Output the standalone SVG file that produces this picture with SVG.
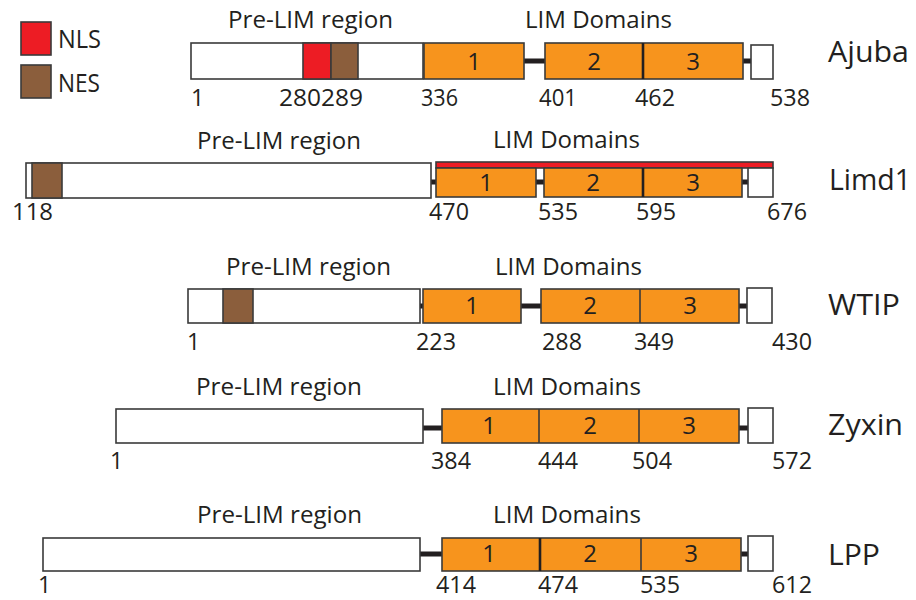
<svg xmlns="http://www.w3.org/2000/svg" width="916" height="600" viewBox="0 0 916 600">
<style>
text{font-family:"Open Sans","Liberation Sans",sans-serif;fill:#231F20}
.box{fill:#fff;stroke:#3a3a3a;stroke-width:1.6}
.lim{fill:#F7941D;stroke:#3a3a3a;stroke-width:1.6}
.nls{fill:#ED1C24;stroke:#3a3a3a;stroke-width:1.6}
.nes{fill:#8B5E3C;stroke:#3a3a3a;stroke-width:1.6}
.lnk{fill:#231F20}
.div{stroke:#3a3a3a;stroke-width:1.6}
.divb{stroke:#231F20;stroke-width:2.6}
.hdr{font-size:24px}
.num{font-size:23px}
.dn{font-size:24px;text-anchor:middle}
.name{font-size:30px}
.leg{font-size:25px}
</style>
<rect width="916" height="600" fill="#fff"/>

<g id="legend">
<rect class="nls" x="21" y="22" width="30" height="33"/>
<rect class="nes" x="21" y="65" width="30" height="33"/>
<text class="leg" x="58" y="48" textLength="43" lengthAdjust="spacingAndGlyphs">NLS</text>
<text class="leg" x="58" y="92" textLength="42" lengthAdjust="spacingAndGlyphs">NES</text>
</g>

<g id="ajuba">
<text class="hdr" x="228" y="28" textLength="165" lengthAdjust="spacingAndGlyphs">Pre-LIM region</text>
<text class="hdr" x="525" y="28" textLength="147" lengthAdjust="spacingAndGlyphs">LIM Domains</text>
<rect class="lnk" x="520" y="58.5" width="30" height="5"/>
<rect class="lnk" x="740" y="58.5" width="12" height="5"/>
<rect class="box" x="191" y="43" width="232" height="36"/>
<rect class="nls" x="303" y="43" width="28" height="36"/>
<rect class="nes" x="331" y="43" width="27" height="36"/>
<rect class="lim" x="424" y="43" width="100" height="36"/>
<rect class="lim" x="545" y="43" width="198" height="36"/>
<line class="divb" x1="643" y1="43" x2="643" y2="79"/>
<rect class="box" x="751" y="45" width="22" height="34"/>
<text class="dn" x="474" y="70">1</text>
<text class="dn" x="594" y="70">2</text>
<text class="dn" x="693" y="70">3</text>
<text class="name" x="828" y="62" textLength="81" lengthAdjust="spacingAndGlyphs">Ajuba</text>
<text class="num" x="191" y="106">1</text>
<text class="num" x="279" y="106" textLength="84" lengthAdjust="spacingAndGlyphs">280289</text>
<text class="num" x="421" y="106" textLength="37" lengthAdjust="spacingAndGlyphs">336</text>
<text class="num" x="539" y="106" textLength="38" lengthAdjust="spacingAndGlyphs">401</text>
<text class="num" x="635" y="106" textLength="40" lengthAdjust="spacingAndGlyphs">462</text>
<text class="num" x="770" y="106" textLength="40" lengthAdjust="spacingAndGlyphs">538</text>
</g>

<g id="limd1">
<text class="hdr" x="197" y="149" textLength="164" lengthAdjust="spacingAndGlyphs">Pre-LIM region</text>
<text class="hdr" x="493" y="148" textLength="147" lengthAdjust="spacingAndGlyphs">LIM Domains</text>
<rect class="lnk" x="429" y="179.5" width="9" height="5"/>
<rect class="lnk" x="534" y="179.5" width="12" height="5"/>
<rect class="lnk" x="740" y="179.5" width="10" height="5"/>
<rect class="box" x="26" y="163" width="405" height="35"/>
<rect class="nes" x="32" y="163" width="30" height="35"/>
<rect class="nls" x="436" y="162" width="337" height="6"/>
<rect class="lim" x="436" y="168" width="100" height="29"/>
<rect class="lim" x="544" y="168" width="198" height="29"/>
<line class="divb" x1="643" y1="168" x2="643" y2="197"/>
<rect class="box" x="748" y="168" width="25" height="29"/>
<text class="dn" x="486" y="191">1</text>
<text class="dn" x="593" y="191">2</text>
<text class="dn" x="693" y="191">3</text>
<text class="name" x="829" y="190" textLength="82" lengthAdjust="spacingAndGlyphs">Limd1</text>
<text class="num" x="12" y="220" textLength="41" lengthAdjust="spacingAndGlyphs">118</text>
<text class="num" x="429" y="220" textLength="40" lengthAdjust="spacingAndGlyphs">470</text>
<text class="num" x="538" y="220" textLength="40" lengthAdjust="spacingAndGlyphs">535</text>
<text class="num" x="636" y="220" textLength="40" lengthAdjust="spacingAndGlyphs">595</text>
<text class="num" x="767" y="220" textLength="40" lengthAdjust="spacingAndGlyphs">676</text>
</g>

<g id="wtip">
<text class="hdr" x="226" y="275" textLength="165" lengthAdjust="spacingAndGlyphs">Pre-LIM region</text>
<text class="hdr" x="495" y="275" textLength="147" lengthAdjust="spacingAndGlyphs">LIM Domains</text>
<rect class="lnk" x="418" y="303.5" width="7" height="5"/>
<rect class="lnk" x="518" y="303.5" width="26" height="5"/>
<rect class="lnk" x="737" y="303.5" width="12" height="5"/>
<rect class="box" x="188" y="289" width="232" height="34"/>
<rect class="nes" x="223" y="289" width="30" height="34"/>
<rect class="lim" x="423" y="289" width="98" height="34"/>
<rect class="lim" x="541" y="289" width="198" height="34"/>
<line class="div" x1="640" y1="289" x2="640" y2="323"/>
<rect class="box" x="747" y="288" width="25" height="35"/>
<text class="dn" x="472" y="314">1</text>
<text class="dn" x="590" y="314">2</text>
<text class="dn" x="690" y="314">3</text>
<text class="name" x="828" y="315" textLength="72" lengthAdjust="spacingAndGlyphs">WTIP</text>
<text class="num" x="187" y="350">1</text>
<text class="num" x="416" y="350" textLength="40" lengthAdjust="spacingAndGlyphs">223</text>
<text class="num" x="542" y="350" textLength="40" lengthAdjust="spacingAndGlyphs">288</text>
<text class="num" x="634" y="350" textLength="40" lengthAdjust="spacingAndGlyphs">349</text>
<text class="num" x="772" y="350" textLength="40" lengthAdjust="spacingAndGlyphs">430</text>
</g>

<g id="zyxin">
<text class="hdr" x="196" y="395" textLength="166" lengthAdjust="spacingAndGlyphs">Pre-LIM region</text>
<text class="hdr" x="493" y="395" textLength="148" lengthAdjust="spacingAndGlyphs">LIM Domains</text>
<rect class="lnk" x="421" y="425.5" width="23" height="5"/>
<rect class="lnk" x="737" y="425.5" width="13" height="5"/>
<rect class="box" x="116" y="409" width="307" height="34"/>
<rect class="lim" x="442" y="409" width="297" height="34"/>
<line class="div" x1="539" y1="409" x2="539" y2="443"/>
<line class="div" x1="639" y1="409" x2="639" y2="443"/>
<rect class="box" x="748" y="408" width="25" height="35"/>
<text class="dn" x="489" y="434">1</text>
<text class="dn" x="590" y="434">2</text>
<text class="dn" x="689" y="434">3</text>
<text class="name" x="828" y="435" textLength="75" lengthAdjust="spacingAndGlyphs">Zyxin</text>
<text class="num" x="110" y="469">1</text>
<text class="num" x="431" y="469" textLength="40" lengthAdjust="spacingAndGlyphs">384</text>
<text class="num" x="538" y="469" textLength="40" lengthAdjust="spacingAndGlyphs">444</text>
<text class="num" x="632" y="469" textLength="40" lengthAdjust="spacingAndGlyphs">504</text>
<text class="num" x="772" y="469" textLength="40" lengthAdjust="spacingAndGlyphs">572</text>
</g>

<g id="lpp">
<text class="hdr" x="197" y="523" textLength="165" lengthAdjust="spacingAndGlyphs">Pre-LIM region</text>
<text class="hdr" x="493" y="523" textLength="148" lengthAdjust="spacingAndGlyphs">LIM Domains</text>
<rect class="lnk" x="418" y="551.5" width="26" height="5"/>
<rect class="lnk" x="739" y="551.5" width="11" height="5"/>
<rect class="box" x="43" y="538" width="377" height="33"/>
<rect class="lim" x="442" y="538" width="299" height="33"/>
<line class="divb" x1="540" y1="538" x2="540" y2="571"/>
<line class="div" x1="641" y1="538" x2="641" y2="571"/>
<rect class="box" x="748" y="536" width="25" height="35"/>
<text class="dn" x="489" y="562">1</text>
<text class="dn" x="590" y="562">2</text>
<text class="dn" x="691" y="562">3</text>
<text class="name" x="828" y="565" textLength="52" lengthAdjust="spacingAndGlyphs">LPP</text>
<text class="num" x="38" y="593">1</text>
<text class="num" x="436" y="593" textLength="40" lengthAdjust="spacingAndGlyphs">414</text>
<text class="num" x="538" y="593" textLength="40" lengthAdjust="spacingAndGlyphs">474</text>
<text class="num" x="640" y="593" textLength="40" lengthAdjust="spacingAndGlyphs">535</text>
<text class="num" x="772" y="593" textLength="40" lengthAdjust="spacingAndGlyphs">612</text>
</g>
</svg>
